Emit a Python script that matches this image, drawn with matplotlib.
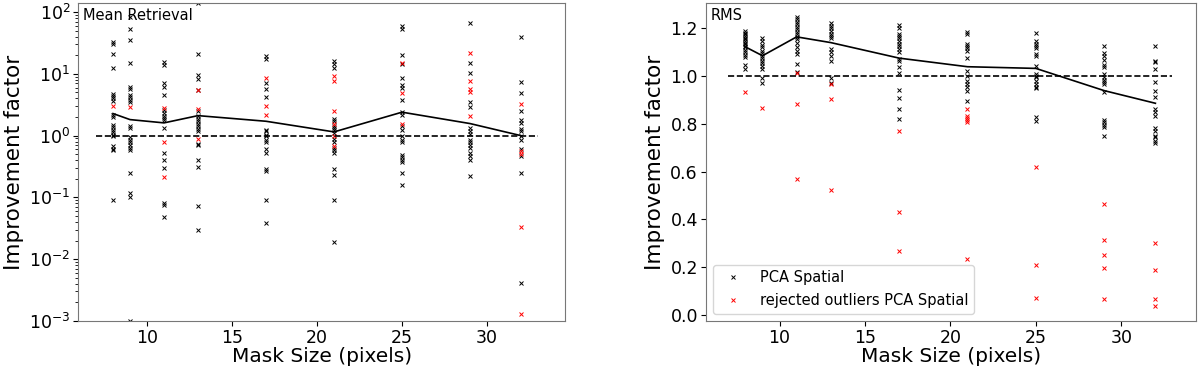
import numpy as np
import matplotlib
matplotlib.use('Agg')
import matplotlib.pyplot as plt

mask_sizes = [8, 9, 11, 13, 17, 21, 25, 29, 32]

# Mean Retrieval (log scale)
mean_kept = [
    [33, 30, 20.8, 12.6, 4.76, 4.36, 4.0, 3.6, 2.19, 2.0, 1.51, 1.38, 1.25, 1.15, 1.04, 0.975, 0.67, 0.61, 0.58, 0.091],
    [82, 54, 35.5, 15.2, 6.2, 5.6, 4.6, 4.25, 3.85, 3.5, 1.42, 1.33, 0.95, 0.86, 0.78, 0.70, 0.63, 0.58, 0.247, 0.117, 0.103, 0.001],
    [15.6, 13.9, 7.2, 6.2, 4.6, 2.65, 2.34, 2.11, 1.94, 1.78, 1.33, 0.52, 0.40, 0.30, 0.080, 0.076, 0.049],
    [140, 20.8, 9.5, 8.3, 5.46, 2.49, 2.06, 1.87, 1.71, 1.57, 1.42, 1.28, 1.18, 0.74, 0.70, 0.40, 0.305, 0.073, 0.030],
    [19.5, 17.2, 7.2, 5.74, 4.2, 1.25, 1.18, 1.04, 0.975, 0.86, 0.78, 0.61, 0.52, 0.287, 0.263, 0.091, 0.038],
    [16.2, 14.3, 12.6, 1.87, 1.71, 1.45, 1.33, 1.22, 1.10, 0.88, 0.78, 0.63, 0.58, 0.52, 0.287, 0.232, 0.091, 0.0187],
    [60, 54, 20, 14.3, 8.45, 6.5, 5.96, 3.85, 2.4, 2.19, 1.45, 1.25, 0.975, 0.86, 0.78, 0.49, 0.45, 0.41, 0.37, 0.253, 0.156],
    [68, 15.2, 10.4, 3.48, 2.92, 1.33, 1.18, 1.08, 0.86, 0.78, 0.71, 0.63, 0.52, 0.46, 0.41, 0.224],
    [40, 7.46, 4.82, 2.49, 1.82, 1.61, 1.28, 1.18, 1.0, 0.86, 0.61, 0.46, 0.253, 0.00417],
]
mean_rejected = [
    [3.0],
    [2.9],
    [2.8, 0.78, 0.213],
    [5.46, 2.7, 0.88],
    [8.45, 3.0, 2.19],
    [9.2, 7.6, 2.55, 1.57, 1.0, 0.69],
    [15.2, 4.94, 1.57],
    [22, 7.6, 5.6, 5.07, 2.06],
    [3.31, 0.556, 0.51, 0.0327, 0.00128],
]
mean_line = [2.28, 1.82, 1.61, 2.11, 1.71, 1.15, 2.4, 1.57, 1.0]

# RMS (linear scale)
rms_kept = [
    [1.189, 1.182, 1.175, 1.168, 1.161, 1.154, 1.147, 1.14, 1.133, 1.127, 1.12, 1.108, 1.099, 1.089, 1.078, 1.047, 1.029],
    [1.159, 1.145, 1.131, 1.12, 1.106, 1.095, 1.085, 1.075, 1.064, 1.053, 1.043, 1.029, 0.992, 0.969],
    [1.248, 1.238, 1.228, 1.217, 1.206, 1.196, 1.186, 1.175, 1.164, 1.154, 1.14, 1.12, 1.106, 1.092, 1.05, 1.019],
    [1.22, 1.21, 1.2, 1.189, 1.178, 1.168, 1.159, 1.113, 1.099, 1.085, 1.064, 0.992, 0.969],
    [1.214, 1.203, 1.178, 1.168, 1.159, 1.147, 1.136, 1.127, 1.113, 1.099, 1.071, 1.061, 1.036, 1.011, 0.942, 0.907, 0.862, 0.821],
    [1.186, 1.178, 1.136, 1.127, 1.117, 1.106, 1.075, 1.022, 1.001, 0.981, 0.967, 0.953, 0.939, 0.897],
    [1.182, 1.147, 1.136, 1.127, 1.117, 1.092, 1.085, 1.043, 1.008, 1.001, 0.994, 0.981, 0.967, 0.955, 0.950, 0.828, 0.811],
    [1.127, 1.095, 1.085, 1.067, 1.047, 1.036, 1.008, 0.994, 0.983, 0.974, 0.967, 0.932, 0.816, 0.807, 0.797, 0.786, 0.751],
    [1.127, 1.064, 1.057, 1.029, 0.974, 0.939, 0.911, 0.862, 0.848, 0.834, 0.783, 0.772, 0.751, 0.744, 0.730, 0.719],
]
rms_rejected = [
    [0.932],
    [0.866],
    [1.011, 0.883, 0.570],
    [0.967, 0.904, 0.524],
    [0.769, 0.430, 0.266],
    [0.862, 0.834, 0.825, 0.816, 0.807, 0.236],
    [0.619, 0.211, 0.072],
    [0.463, 0.313, 0.250, 0.195, 0.065],
    [0.302, 0.188, 0.065, 0.038],
]
rms_line = [1.122, 1.085, 1.164, 1.14, 1.075, 1.039, 1.032, 0.939, 0.886]


def draw(ax, kept, rejected, line, title):
    for i, m in enumerate(mask_sizes):
        ax.plot([m] * len(kept[i]), kept[i], 'kx', ms=3.5, mew=0.7,
                label='PCA Spatial' if i == 0 else None)
        ax.plot([m] * len(rejected[i]), rejected[i], 'x', color='red', ms=3.5, mew=0.7,
                label='rejected outliers PCA Spatial' if i == 0 else None)
    ax.plot(mask_sizes, line, 'k-', lw=1.2)
    ax.plot([7, 33], [1, 1], 'k--', lw=1.2)
    ax.text(0.01, 0.985, title, transform=ax.transAxes, ha='left', va='top', fontsize=10.5)
    ax.set_xlabel('Mask Size (pixels)', fontsize=14.5, labelpad=0)
    ax.set_ylabel('Improvement factor', fontsize=15.5)
    ax.tick_params(labelsize=12.5, pad=2)
    for s in ax.spines.values():
        s.set_color('#777777')


fig = plt.figure(figsize=(12, 3.68), dpi=100)
ax1 = fig.add_axes([0.065, 0.128, 0.406, 0.864])
ax2 = fig.add_axes([0.588, 0.128, 0.409, 0.864])

draw(ax1, mean_kept, mean_rejected, mean_line, 'Mean Retrieval')
ax1.set_yscale('log')
ax1.set_ylim(1e-3, 141)
ax1.set_xlim(5.94, 34.6)

draw(ax2, rms_kept, rms_rejected, rms_line, 'RMS')
ax2.set_ylim(-0.025, 1.306)
ax2.set_xlim(5.67, 34.4)
ax2.set_yticks(np.arange(0, 1.21, 0.2))
ax2.legend(loc='lower left', fontsize=10.5)

fig.savefig('out.png', dpi=100)
